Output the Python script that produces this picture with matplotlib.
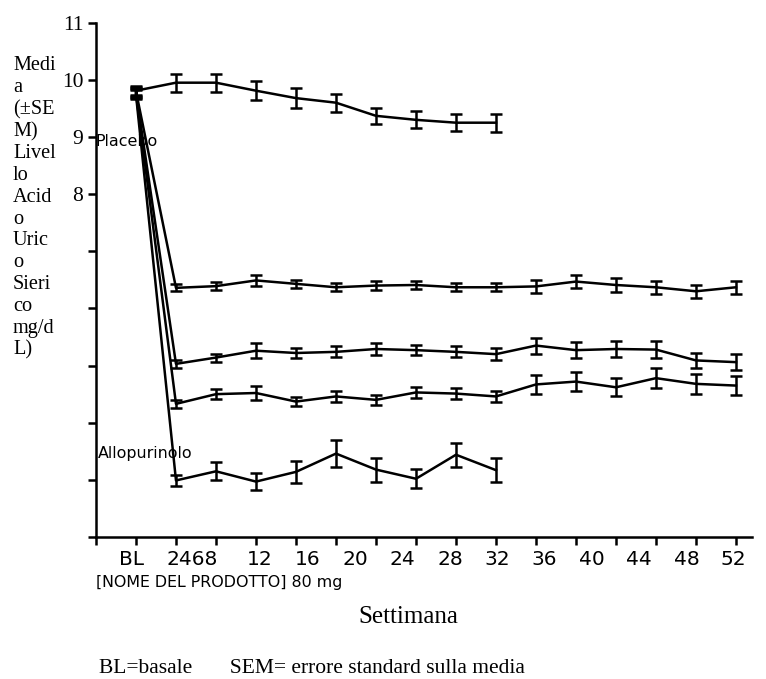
# -*- coding: utf-8 -*-
import numpy as np
import matplotlib
matplotlib.use("Agg")
import matplotlib.pyplot as plt

# week labels on the x axis (BL = basale)
week_labels = ['BL', '2468', '12', '16', '20', '24', '28', '32', '36', '40', '44', '48', '52']
label_pos = [0.9, 2.4, 4.1, 5.28, 6.48, 7.65, 8.85, 10.03, 11.2, 12.4, 13.58, 14.78, 15.93]

# visit index (BL = 1, then one step per visit)
x_long = np.arange(1, 17)
x_short = np.arange(1, 11)

placebo = [9.81, 9.95, 9.95, 9.81, 9.68, 9.60, 9.37, 9.30, 9.25, 9.25]
placebo_sem = [0.08, 0.155, 0.155, 0.17, 0.17, 0.16, 0.14, 0.15, 0.145, 0.16]

dose_a = [9.80, 6.36, 6.39, 6.49, 6.43, 6.37, 6.40, 6.41, 6.37, 6.37, 6.385, 6.47, 6.41, 6.37, 6.30, 6.37]
dose_a_sem = [0.08, 0.06, 0.065, 0.10, 0.07, 0.07, 0.075, 0.075, 0.07, 0.07, 0.115, 0.115, 0.115, 0.11, 0.11, 0.115]

dose_b = [9.78, 5.03, 5.14, 5.26, 5.22, 5.24, 5.29, 5.27, 5.24, 5.20, 5.35, 5.27, 5.29, 5.28, 5.09, 5.06]
dose_b_sem = [0.08, 0.07, 0.07, 0.13, 0.09, 0.095, 0.10, 0.09, 0.095, 0.10, 0.14, 0.14, 0.145, 0.145, 0.13, 0.135]

dose_c = [9.76, 4.33, 4.50, 4.52, 4.37, 4.46, 4.40, 4.53, 4.51, 4.46, 4.67, 4.72, 4.62, 4.78, 4.68, 4.65]
dose_c_sem = [0.08, 0.065, 0.09, 0.125, 0.08, 0.095, 0.09, 0.095, 0.095, 0.095, 0.17, 0.17, 0.16, 0.175, 0.17, 0.165]

allopurinolo = [9.74, 2.99, 3.15, 2.97, 3.14, 3.46, 3.18, 3.02, 3.44, 3.17]
allopurinolo_sem = [0.08, 0.10, 0.16, 0.145, 0.19, 0.23, 0.21, 0.17, 0.21, 0.21]

y_ticks = np.arange(2, 12)
y_ticklabels = ['', '', '', '', '', '', '8', '9', '10', '11']

ylabel_txt = "Medi\na\n(±SE\nM)\nLivel\nlo\nAcid\no\nUric\no\nSieri\nco\nmg/d\nL)"


def main():

	fig = plt.figure(figsize=(7.66, 6.79), dpi=100)
	ax = fig.add_axes([0.1253, 0.2091, 0.8564, 0.7575])

	eb = dict(color='black', lw=1.8, elinewidth=1.8, capsize=4, capthick=1.8)
	ax.errorbar(x_short, placebo, yerr=placebo_sem, **eb)
	ax.errorbar(x_long, dose_a, yerr=dose_a_sem, **eb)
	ax.errorbar(x_long, dose_b, yerr=dose_b_sem, **eb)
	ax.errorbar(x_long, dose_c, yerr=dose_c_sem, **eb)
	ax.errorbar(x_short, allopurinolo, yerr=allopurinolo_sem, **eb)

	ax.text(0.0, 8.84, 'Placebo', fontsize=11.4, va='baseline', ha='left')
	ax.text(0.04, 3.39, 'Allopurinolo', fontsize=11.4, va='baseline', ha='left')

	ax.set_xlim(0, 16.4)
	ax.set_ylim(2, 11)

	ax.spines['top'].set_visible(False)
	ax.spines['right'].set_visible(False)
	ax.spines['left'].set_linewidth(1.8)
	ax.spines['bottom'].set_linewidth(1.8)

	ax.set_xticks(np.arange(0, 17))
	ax.set_xticklabels([])
	ax.set_xticks(label_pos, minor=True)
	ax.set_xticklabels(week_labels, minor=True)
	ax.tick_params(axis='x', which='major', length=6, width=1.8, direction='out')
	ax.tick_params(axis='x', which='minor', length=0, pad=9, labelsize=14.5)

	ax.set_yticks(y_ticks)
	ax.set_yticklabels(y_ticklabels, fontfamily='Liberation Serif')
	ax.tick_params(axis='y', length=6, width=1.8, pad=3, labelsize=15.5)

	fig.text(96/766, 1-586.7/679, '[NOME DEL PRODOTTO] 80 mg', fontsize=11.4,
		ha='left', va='baseline')
	fig.text(408/766, 1-623/679, 'Settimana', fontsize=18,
		fontfamily='Liberation Serif', ha='center', va='baseline')
	fig.text(99/766, 1-673/679, 'BL=basale       SEM= errore standard sulla media',
		fontsize=15.5, fontfamily='Liberation Serif', ha='left', va='baseline')

	fig.text(13/766, 1-208/679, ylabel_txt, fontsize=14.6, fontfamily='Liberation Serif',
		ha='left', va='center', multialignment='left', linespacing=1.2)

	fig.savefig("out.png", dpi=100)

main()
